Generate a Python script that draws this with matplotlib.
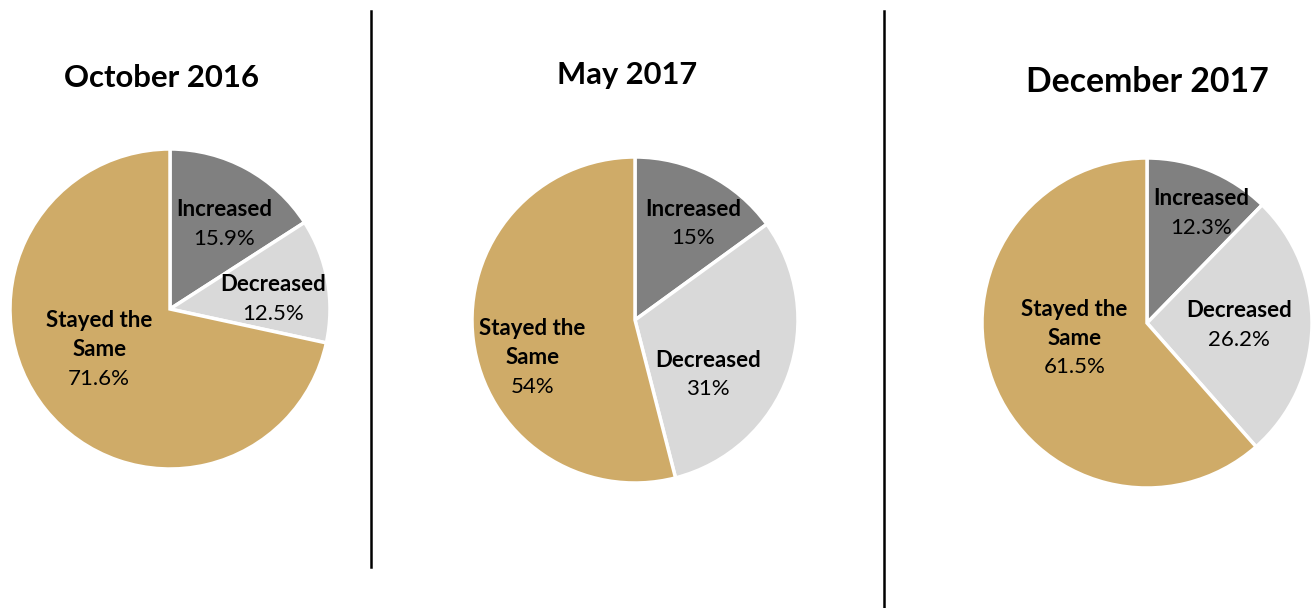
import numpy as np
import matplotlib
matplotlib.use("Agg")
import matplotlib.pyplot as plt

# survey results, share of respondents (%)
periods = ["October 2016", "May 2017", "December 2017"]
categories = ["Increased", "Decreased", "Stayed the Same"]
oct_2016 = [15.9, 12.5, 71.6]
may_2017 = [15, 31, 54]
dec_2017 = [12.3, 26.2, 61.5]
pct_labels = [["15.9%", "12.5%", "71.6%"],
              ["15%", "31%", "54%"],
              ["12.3%", "26.2%", "61.5%"]]

colors = ["#808080", "#D9D9D9", "#CFAB68"]
W, H = 1312, 608

# pie centre / radius in pixels (y measured from top), title pos + size
pie_geom = [((170, 309), 160), ((635, 320), 163), ((1147, 323), 165)]
title_pos = [((162, 78), 22.4), ((627, 75), 22.2), ((1147, 82), 24.3)]
# label placement per wedge: (angle offset in deg, radius fraction)
label_place = [[(-4, 0.63), (-5, 0.65), (-9, 0.51)],
               [(-4, 0.69), (-17, 0.56), (13, 0.67)],
               [(-4, 0.74), (0, 0.56), (-9, 0.45)]]
line_step = 29

plt.rcParams['font.family'] = ['Lato', 'DejaVu Sans']
fig = plt.figure(figsize=(W / 100, H / 100), dpi=100)
ax = fig.add_axes([0, 0, 1, 1])

for i, vals in enumerate([oct_2016, may_2017, dec_2017]):
    (cx, cy), r = pie_geom[i]
    wedges, _ = ax.pie(vals, colors=colors, startangle=90, counterclock=False,
                       center=(cx, H - cy), radius=r,
                       wedgeprops=dict(edgecolor="white", linewidth=2.5))
    for j, w in enumerate(wedges):
        mid = (w.theta1 + w.theta2) / 2 + label_place[i][j][0]
        d = r * label_place[i][j][1]
        x = cx + d * np.cos(np.radians(mid))
        y = H - cy + d * np.sin(np.radians(mid))
        name_lines = categories[j].replace("the Same", "the\nSame").split("\n")
        lines = [(s, "bold") for s in name_lines] + [(pct_labels[i][j], "normal")]
        top = y + (len(lines) - 1) / 2 * line_step
        for k, (s, fw) in enumerate(lines):
            ax.text(x, top - k * line_step, s, ha="center", va="center",
                    fontsize=16, fontweight=fw)
    (tx, ty), fs = title_pos[i]
    ax.text(tx, H - ty, periods[i], ha="center", va="center",
            fontsize=fs, fontweight="bold")

# divider lines between the panels
ax.plot([371, 371], [H - 11, H - 567], color="black", lw=1.8)
ax.plot([884, 884], [H - 11, 0], color="black", lw=1.8)

ax.set_xlim(0, W)
ax.set_ylim(0, H)
ax.set_aspect("equal")
ax.set_axis_off()
fig.savefig("out.png", dpi=100, facecolor="white")
